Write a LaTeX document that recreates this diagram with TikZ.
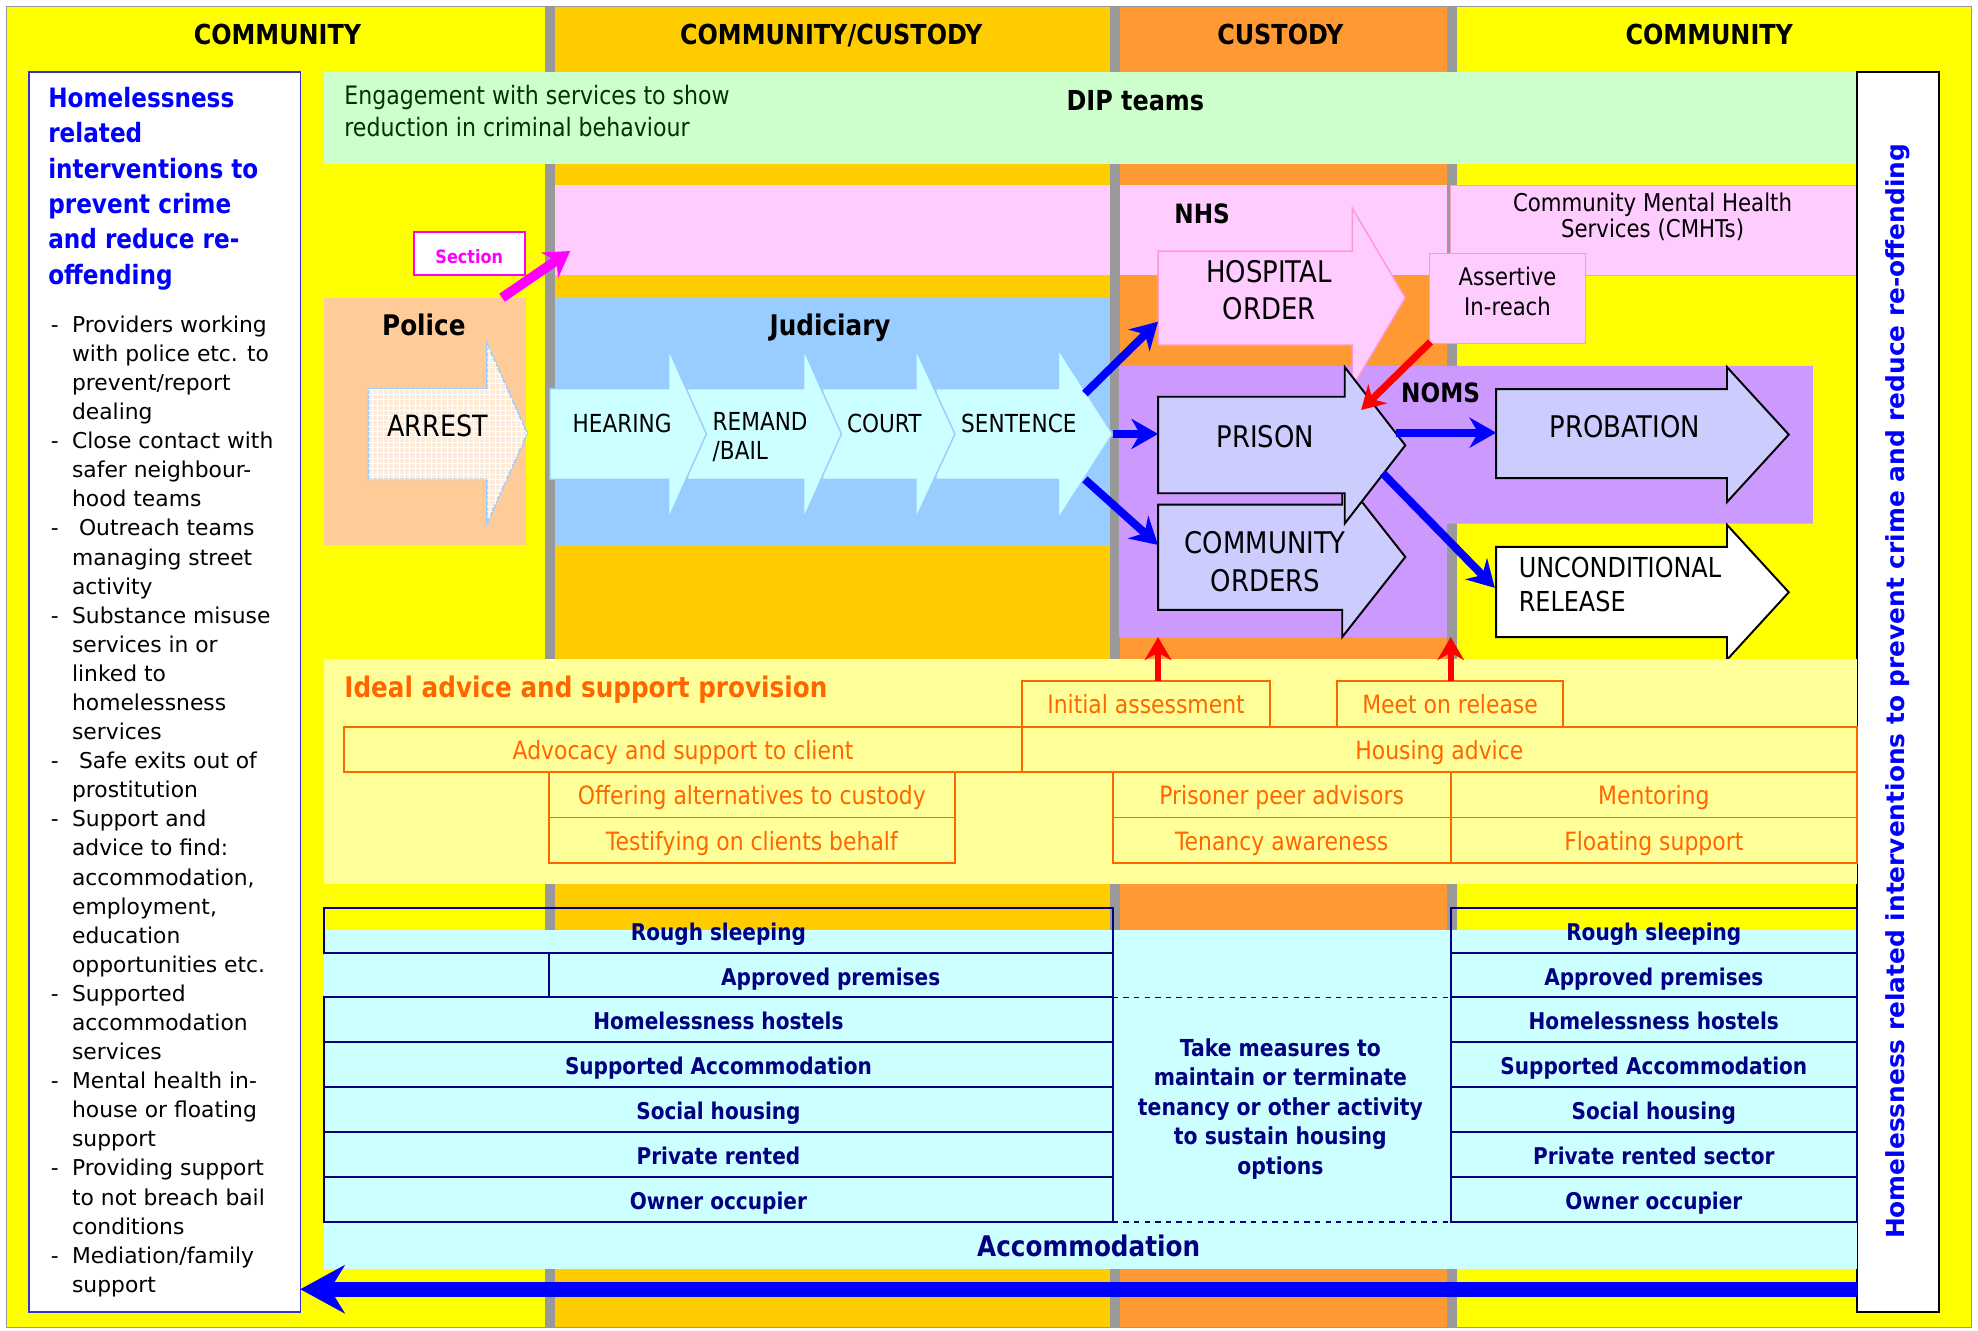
\documentclass[tikz,border=0pt]{standalone}
\usepackage{fontspec}
\setmainfont{DejaVu Sans}[FakeStretch=0.87]
\newfontfamily\verdana{DejaVu Sans}
\usetikzlibrary{arrows.meta,patterns}

\definecolor{commyellow}{HTML}{FFFF00}
\definecolor{commcust}{HTML}{FFCC00}
\definecolor{custody}{HTML}{FF9933}
\definecolor{divgray}{HTML}{999999}
\definecolor{dipgreen}{HTML}{CCFFCC}
\definecolor{dgreen}{HTML}{003300}
\definecolor{nhspink}{HTML}{FFCCFF}
\definecolor{pinkline}{HTML}{FF99CC}
\definecolor{peach}{HTML}{FFCC99}
\definecolor{arrestfill}{HTML}{FFEBD6}
\definecolor{judblue}{HTML}{99CCFF}
\definecolor{chevfill}{HTML}{CCFFFF}
\definecolor{nomspurple}{HTML}{CC99FF}
\definecolor{lavender}{HTML}{CCCCFF}
\definecolor{advyellow}{HTML}{FFFF99}
\definecolor{advorange}{HTML}{FF6600}
\definecolor{acccyan}{HTML}{CCFFFF}
\definecolor{navy}{HTML}{000080}
\definecolor{titleblue}{HTML}{0000FF}
\definecolor{boxblue}{HTML}{3333CC}
\definecolor{sectpink}{HTML}{FF00FF}

\newcommand{\fs}[2]{\fontsize{#1}{#2}\selectfont}
% block arrow: style, left, head base, tip, body top, body bottom, head top, head bottom
\newcommand{\blockarrow}[8]{%
  \draw [#1] (#2,#5) -- (#3,#5) -- (#3,#7) -- (#4,{(#7+#8)/2}) -- (#3,#8)
    -- (#3,#6) -- (#2,#6) -- cycle;}

\tikzset{
  oneline/.style={text height=0.73em, text depth=0pt, yshift=-2pt},
  head/.style={oneline, font=\bfseries\fs{15.5}{18}},
  boldlbl/.style={oneline, font=\bfseries\fs{16}{18}},
  arrlbl/.style={font=\fs{16.8}{21.3}, align=center},
  chevlbl/.style={font=\fs{14}{16.4}},
  chev/.style={draw=judblue, fill=chevfill, line width=0.8pt},
  nomsarr/.style={draw=black, fill=lavender, line width=1.1pt},
  pinkarr/.style={draw=pinkline, fill=nhspink, line width=0.8pt},
  bluearr/.style={draw=blue, line width=4.5pt, -{Stealth[length=15pt,width=17pt]}},
  redarr/.style={draw=red, line width=4pt, -{Stealth[length=13pt,width=15pt]}},
  advbox/.style={draw=advorange, line width=1pt},
  advtext/.style={oneline, text=advorange, font=\fs{14.2}{16}},
  accbox/.style={draw=navy, line width=1.1pt},
  acctext/.style={oneline, text=navy, font=\bfseries\fs{13}{15}}
}

\begin{document}
\begin{tikzpicture}[x=0.025cm, y=-0.025cm]
\useasboundingbox (0,0) rectangle (1568,1055);
% columns
\fill [commyellow] (5,5) rectangle (1563,1052);
\fill [commcust] (440,5) rectangle (880,1052);
\fill [custody] (887,5) rectangle (1147,1052);
\fill [nhspink] (440,147) rectangle (1147,218);
\foreach \x in {432,880,1147}
  \fill [divgray] (\x,5) rectangle (\x+8,1052);
\draw [divgray, line width=0.6pt] (5,5) rectangle (1563,1052);
\node [head] (hcomleft) at (220,27) {COMMUNITY};
\node [head] (hcomcust) at (659,27) {COMMUNITY/CUSTODY};
\node [head] (hcust) at (1015,27) {CUSTODY};
\node [head] (hcomright) at (1355,27) {COMMUNITY};

% DIP teams and NHS
\fill [dipgreen] (257,57) rectangle (1472,130);
\node [anchor=west, align=left, text=dgreen, font=\fs{14.3}{17.8}] (engage) at (268,88)
  {Engagement with services to show\\reduction in criminal behaviour};
\node [head] (dip) at (900,80) {DIP teams};
\draw [pinkline, fill=nhspink] (1150,147) rectangle (1472,218);
\node [align=center, font=\fs{13.8}{14.5}] (cmht) at (1310,172) {Community Mental Health\\Services (CMHTs)};
\node [oneline, font=\bfseries\fs{15}{18}] (nhs) at (953,169) {NHS};

% side boxes
\draw [boxblue, fill=white, line width=0.8pt] (23,57) rectangle (238,1040);
\node [anchor=north west, align=left, inner sep=0, text=titleblue, font=\bfseries\fs{15}{19.9}] (ltitle) at (38,69)
  {Homelessness\\related\\interventions to\\prevent crime\\and reduce re-\\offending};
\node [anchor=north west, inner sep=0, font=\verdana\fs{12.3}{16.4}] (llist) at (40,247) {%
\begin{tabular}{@{}p{12pt}@{}l@{}}
- & Providers working\\
  & with police etc. to\\
  & prevent/report\\
  & dealing\\
- & Close contact with\\
  & safer neighbour-\\
  & hood teams\\
- & \ Outreach teams\\
  & managing street\\
  & activity\\
- & Substance misuse\\
  & services in or\\
  & linked to\\
  & homelessness\\
  & services\\
- & \ Safe exits out of\\
  & prostitution\\
- & Support and\\
  & advice to find:\\
  & accommodation,\\
  & employment,\\
  & education\\
  & opportunities etc.\\
- & Supported\\
  & accommodation\\
  & services\\
- & Mental health in-\\
  & house or floating\\
  & support\\
- & Providing support\\
  & to not breach bail\\
  & conditions\\
- & Mediation/family\\
  & support
\end{tabular}};
\draw [black, fill=white, line width=0.8pt] (1472,57) rectangle (1537,1040);
\node [rotate=90, text=titleblue, font=\verdana\bfseries\fs{14}{16}] (rtitle) at (1504,548)
  {Homelessness related interventions to prevent crime and reduce re-offending};

% police and judiciary
\fill [peach] (257,236) rectangle (417,432);
\node [boldlbl] (police) at (336,258) {Police};
\blockarrow{draw=judblue, fill=arrestfill, line width=0.8pt, postaction={pattern=grid, pattern color=white}}{292}{386}{418}{308}{380}{272}{415}
\node [oneline, font=\fs{16.5}{18}] (arrest) at (347,338) {ARREST};
\fill [judblue] (440,236) rectangle (880,432);
\node [boldlbl] (judiciary) at (658,258) {Judiciary};
\foreach \l/\b/\t in {742/839/882, 652/726/757, 545/637/667, 436/530/560}
  \blockarrow{chev}{\l}{\b}{\t}{308}{380}{277}{411}
\node [chevlbl, oneline, anchor=west] (hearing) at (449,335) {HEARING};
\node [chevlbl, anchor=west, align=left] (remand) at (560,346.5) {REMAND\\/BAIL};
\node [chevlbl, oneline] (court) at (701,335) {COURT};
\node [chevlbl, oneline, anchor=west] (sentence) at (757,335) {SENTENCE};

% custody
\fill [nomspurple] (887,290) -- (1437,290) -- (1437,415) -- (1147,415) -- (1147,505) -- (887,505) -- cycle;
\node [oneline, font=\bfseries\fs{15}{18}] (noms) at (1142,311) {NOMS};
\blockarrow{pinkarr}{918}{1072}{1114}{199}{273.5}{165}{307}
\node [arrlbl] (hospital) at (1006,230) {HOSPITAL\\ORDER};
\draw [pinkline, fill=nhspink] (1133,201) rectangle (1257,272);
\node [align=center, font=\fs{13.7}{17}] (assertive) at (1195,231) {Assertive\\In-reach};
\blockarrow{nomsarr}{918}{1064}{1114}{400}{483.5}{378}{505}
\node [arrlbl] (comorders) at (1003,445) {COMMUNITY\\ORDERS};
\blockarrow{nomsarr}{918}{1066}{1114}{314.5}{391}{291}{415}
\node [arrlbl, oneline] (prison) at (1003,347) {PRISON};
\blockarrow{nomsarr}{1186}{1369}{1418}{308.5}{379}{291}{398}
\node [arrlbl, oneline] (probation) at (1288,339) {PROBATION};
\blockarrow{draw=black, fill=white, line width=1.1pt}{1186}{1369}{1418}{433.5}{505}{416}{523}
\node [anchor=west, align=left, font=\fs{15.5}{19.2}] (uncond) at (1199,463.5) {UNCONDITIONAL\\RELEASE};

% section
\draw [sectpink, fill=white, line width=1pt] (328,184) rectangle (416,218);
\node [oneline, text=sectpink, font=\bfseries\fs{10.4}{12}] (section) at (372,201) {Section};
\coordinate (police-ne) at (398,236);
\coordinate (nhs-w) at (452,199);
\draw [sectpink, line width=5.5pt, -{Stealth[length=14pt,width=17pt]}] (police-ne) -- (nhs-w);

% flows
\coordinate (sent-up) at (860,312);
\coordinate (sent-tip) at (882,344);
\coordinate (sent-down) at (860,380);
\coordinate (hosp-in) at (918,255);
\coordinate (prison-in) at (918,344);
\coordinate (comord-in) at (918,432);
\coordinate (prison-out) at (1107,343);
\coordinate (prob-in) at (1186,343);
\coordinate (prison-low) at (1096,375);
\coordinate (uncond-in) at (1185,466);
\coordinate (assert-sw) at (1134,271);
\coordinate (prison-ne) at (1079,325);
\draw [bluearr] (sent-up) -- (hosp-in);
\draw [bluearr] (sent-tip) -- (prison-in);
\draw [bluearr] (sent-down) -- (comord-in);
\draw [bluearr] (prison-out) -- (prob-in);
\draw [bluearr] (prison-low) -- (uncond-in);
\draw [redarr] (assert-sw) -- (prison-ne);

% advice and support
\fill [advyellow] (257,522) rectangle (1472,701);
\node [anchor=west, oneline, text=advorange, font=\bfseries\fs{16}{18}] (ideal) at (268,545) {Ideal advice and support provision};
\foreach \nm/\xa/\ya/\xb/\yb/\txt in {
  advocacy/273/576/810/612/Advocacy and support to client,
  offering/435/612/757/648/Offering alternatives to custody,
  testify/435/648/757/684/Testifying on clients behalf,
  initial/810/540/1007/576/Initial assessment,
  meet/1060/540/1239/576/Meet on release,
  housing/810/576/1472/612/Housing advice,
  peer/882/612/1150/648/Prisoner peer advisors,
  tenancy/882/648/1150/684/Tenancy awareness,
  mentor/1150/612/1472/648/Mentoring,
  floating/1150/648/1472/684/Floating support}
{ \draw [advbox] (\xa,\ya) rectangle (\xb,\yb);
  \node [advtext] (\nm) at ({(\xa+\xb)/2},{(\ya+\yb)/2}) {\txt}; }
\coordinate (init-top) at (918,540);
\coordinate (noms-bot) at (918,505);
\coordinate (meet-top) at (1150,540);
\coordinate (release-bot) at (1150,505);
\draw [redarr, line width=3.5pt] (init-top) -- (noms-bot);
\draw [redarr, line width=3.5pt] (meet-top) -- (release-bot);

% accommodation
\fill [acccyan] (257,737) rectangle (1472,1006);
\foreach \i/\xa/\txt in {0/257/Rough sleeping, 1/435/Approved premises, 2/257/Homelessness hostels,
  3/257/Supported Accommodation, 4/257/Social housing, 5/257/Private rented, 6/257/Owner occupier}
{ \draw [accbox] (\xa,719.5+35.6*\i) rectangle (882,755.1+35.6*\i);
  \node [acctext] (accL\i) at ({(\xa+882)/2},737.3+35.6*\i) {\txt}; }
\foreach \i/\txt in {0/Rough sleeping, 1/Approved premises, 2/Homelessness hostels,
  3/Supported Accommodation, 4/Social housing, 5/Private rented sector, 6/Owner occupier}
{ \draw [accbox] (1150,719.5+35.6*\i) rectangle (1472,755.1+35.6*\i);
  \node [acctext] (accR\i) at (1311,737.3+35.6*\i) {\txt}; }
\draw [navy, dashed, line width=0.8pt] (882,790.7) -- (1150,790.7);
\draw [navy, dashed, line width=0.8pt] (882,968.7) -- (1150,968.7);
\node [align=center, text=navy, font=\bfseries\fs{13.2}{16.7}] (measures) at (1015,879)
  {Take measures to\\maintain or terminate\\tenancy or other activity\\to sustain housing\\options};
\node [oneline, text=navy, font=\bfseries\fs{16}{18}] (accom) at (863,988) {Accommodation};

% back to the start
\coordinate (acc-end) at (1472,1022);
\coordinate (lbox-e) at (238,1022);
\draw [blue, line width=8.5pt, -{Stealth[length=25pt,width=27pt]}] (acc-end) -- (lbox-e);
\end{tikzpicture}
\end{document}
